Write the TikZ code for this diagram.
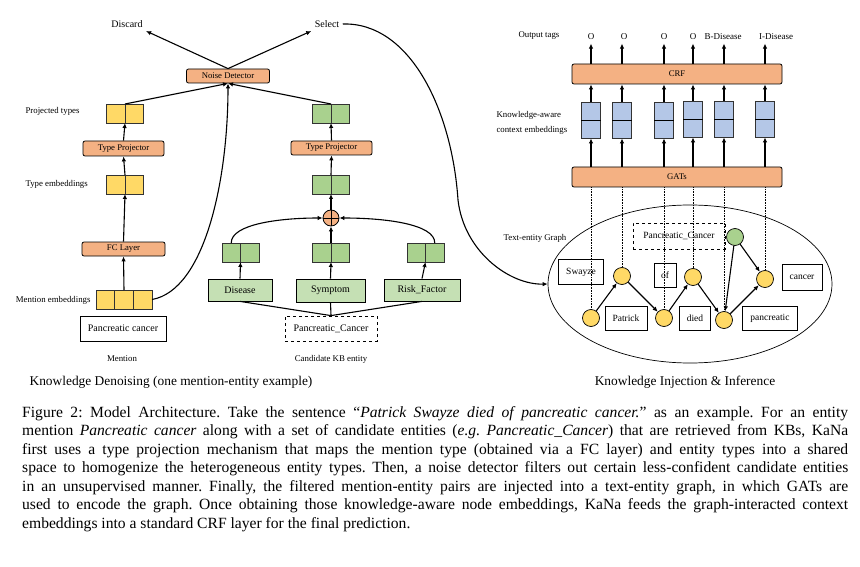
\documentclass[tikz,border=0pt]{standalone}
\usepackage{fontspec}
\setmainfont{Liberation Serif}
\usepackage{tikz}
\usepackage{xcolor}
\usetikzlibrary{shapes, positioning, arrows.meta}

\definecolor{procorange}{HTML}{F4B183}
\definecolor{cellyellow}{HTML}{FFD966}
\definecolor{cellgreen}{HTML}{A9D18E}
\definecolor{typegreen}{HTML}{C5E0B4}
\definecolor{cellblue}{HTML}{B4C7E7}
\frenchspacing

\begin{document}
\begin{tikzpicture}[x=1pt, y=-1pt,
    arr/.style={-{Latex[length=5pt, width=4.5pt]}, line width=1.1pt},
    proc/.style={draw, line width=0.8pt, rounded corners=2pt, fill=procorange, inner sep=0pt, font=\fontsize{8.7}{10}\selectfont},
    cell/.style={draw=black!80, line width=0.8pt, minimum width=18.5, minimum height=19, inner sep=0pt, outer sep=0pt},
    ycell/.style={cell, fill=cellyellow},
    gcell/.style={cell, fill=cellgreen},
    bcell/.style={draw=black!80, line width=0.8pt, fill=cellblue, minimum width=19, minimum height=36, inner sep=0pt},
    tbox/.style={draw, line width=0.8pt, fill=typegreen, minimum height=22, inner sep=0pt, font=\fontsize{10}{12}\selectfont},
    word/.style={draw, line width=0.8pt, fill=white, minimum height=24, inner sep=0pt, font=\fontsize{9.5}{11}\selectfont},
    tok/.style={circle, draw, line width=0.7pt, fill=cellyellow, minimum size=17, inner sep=0pt},
    lbl/.style={font=\fontsize{8.8}{10}\selectfont},
    tag/.style={font=\fontsize{9}{10}\selectfont},
    title/.style={font=\fontsize{13.4}{15}\selectfont}]
\useasboundingbox (0,0) rectangle (860,567);

        \node[proc, minimum width=83, minimum height=14] (nd) at (228,76) {Noise Detector};
        \node[font=\fontsize{10}{12}\selectfont] (discard) at (127,24) {Discard};
        \node[font=\fontsize{10}{12}\selectfont] (select) at (327,24) {Select};

        \draw[arr] (nd.north) -- (discard.south east);
        \draw[arr] (nd.north) -- (select.south west);

        \node[lbl, anchor=west] (ptlab) at (22,111) {Projected types};
        \node[lbl, anchor=west] (telab) at (22,184) {Type embeddings};
        \node[lbl, anchor=east] (melab) at (94,300) {Mention embeddings};

        \node[ycell] (yp1) at (115.75,113.5) {};
        \node[ycell, right=0pt of yp1] (yp2) {};
        \node[proc, minimum width=81, minimum height=15] (ytp) at (123.5,148.5) {Type Projector};
        \node[ycell] (ye1) at (115.75,184.5) {};
        \node[ycell, right=0pt of ye1] (ye2) {};
        \node[proc, minimum width=83, minimum height=14] (fc) at (123.5,249) {FC Layer};
        \node[ycell, minimum width=18.7] (m1) at (105.3,299.5) {};
        \node[ycell, minimum width=18.7, right=0pt of m1] (m2) {};
        \node[ycell, minimum width=18.7, right=0pt of m2] (m3) {};
        \node[word, minimum width=86, minimum height=25, font=\fontsize{10}{12}\selectfont] (mtext) at (123,328.5) {Pancreatic cancer};
        \node[lbl] (mlab) at (122,359) {Mention};

        \draw[arr] (m2.north) -- (fc.south);
        \draw[arr] (fc.north) -- (ye1.south east);
        \draw[arr] (ye1.north east) -- (ytp.south);
        \draw[arr] (ytp.north) -- (yp1.south east);
        \draw[arr] (yp1.north east) -- (nd.south);
        \draw[arr] (m3.east) .. controls (205,290) and (228,180) .. (nd.south);

        \node[gcell] (gp1) at (321.75,113.5) {};
        \node[gcell, right=0pt of gp1] (gp2) {};
        \node[proc, minimum width=81, minimum height=14] (gtp) at (331.5,148) {Type Projector};
        \node[gcell] (ge1) at (321.75,184.5) {};
        \node[gcell, right=0pt of ge1] (ge2) {};
        \node[circle, draw, line width=0.8pt, fill=procorange, minimum size=16, inner sep=0pt] (sum) at (331,218) {};
        \draw[line width=0.8pt] (sum.north) -- (sum.south)
            (sum.west) -- (sum.east);

        \node[gcell] (dp1) at (231.25,252.5) {};
        \node[gcell, right=0pt of dp1] (dp2) {};
        \node[gcell] (sp1) at (321.75,252.5) {};
        \node[gcell, right=0pt of sp1] (sp2) {};
        \node[gcell] (rp1) at (416.25,252.5) {};
        \node[gcell, right=0pt of rp1] (rp2) {};

        \node[tbox, minimum width=64] (dis) at (240,290) {Disease};
        \node[tbox, minimum width=69, minimum height=23] (sym) at (330.5,290.5) {Symptom};
        \node[tbox, minimum width=76] (risk) at (422,290) {Risk\_Factor};
        \node[draw, dashed, line width=0.8pt, minimum width=92, minimum height=25, inner sep=0pt, font=\fontsize{10}{12}\selectfont] (kb) at (331,328.5) {Pancreatic\_Cancer};
        \node[lbl] (kblab) at (331,359) {Candidate KB entity};

        \draw[line width=1.1pt] (kb.north) to (dis.south)
            (kb.north) to (sym.south)
            (kb.north) to (risk.south);

        \draw[arr] (dis.north) -- (dp1.south east);
        \draw[arr] (sym.north) -- (sp1.south east);
        \draw[arr] (risk.north) -- (rp1.south east);
        \draw[arr] (dp1.north) .. controls (231,224) and (280,218) .. (sum.west);
        \draw[arr] (rp2.north) .. controls (435,224) and (385,218) .. (sum.east);
        \draw[arr] (sp1.north east) -- (sum.south);
        \draw[arr] (sum.north) -- (ge1.south east);
        \draw[arr] (ge1.north east) -- (gtp.south);
        \draw[arr] (gtp.north) -- (gp1.south east);
        \draw[arr] (gp1.north east) -- (nd.south);

        \node[title] (lefttitle) at (171,382) {Knowledge Denoising (one mention-entity example)};

        \node[lbl, anchor=west] (outlab) at (515,36) {Output tags};
        \node[tag] (t1) at (591,37) {O};
        \node[tag] (t2) at (624,37) {O};
        \node[tag] (t3) at (664,37) {O};
        \node[tag] (t4) at (693,37) {O};
        \node[tag] (t5) at (723,37) {B-Disease};
        \node[tag] (t6) at (776,37) {I-Disease};

        \node[proc, minimum width=210, minimum height=20] (crf) at (677,74) {CRF};
        \node[proc, minimum width=210, minimum height=20] (gats) at (677,177) {GATs};
        \node[lbl, anchor=west, align=left, font=\fontsize{8.8}{15}\selectfont] (kalab) at (493,123) {Knowledge-aware\\context embeddings};

        \node[bcell] (b1) at (591,120) {};
        \node[bcell] (b2) at (622,120) {};
        \node[bcell] (b3) at (664,120) {};
        \node[bcell] (b4) at (693,119) {};
        \node[bcell] (b5) at (724,119) {};
        \node[bcell] (b6) at (765,119) {};
        \draw[line width=0.8pt] (b1.west) -- (b1.east)
            (b2.west) -- (b2.east)
            (b3.west) -- (b3.east)
            (b4.west) -- (b4.east)
            (b5.west) -- (b5.east)
            (b6.west) -- (b6.east);

        \draw[arr] (b1 |- crf.north) -- (b1 |- t1.south);
        \draw[arr] (b2 |- crf.north) -- (b2 |- t2.south);
        \draw[arr] (b3 |- crf.north) -- (b3 |- t3.south);
        \draw[arr] (b4 |- crf.north) -- (b4 |- t4.south);
        \draw[arr] (b5 |- crf.north) -- (b5 |- t5.south);
        \draw[arr] (b6 |- crf.north) -- (b6 |- t6.south);
        \draw[arr] (b1.north) -- (b1 |- crf.south);
        \draw[arr] (b2.north) -- (b2 |- crf.south);
        \draw[arr] (b3.north) -- (b3 |- crf.south);
        \draw[arr] (b4.north) -- (b4 |- crf.south);
        \draw[arr] (b5.north) -- (b5 |- crf.south);
        \draw[arr] (b6.north) -- (b6 |- crf.south);
        \draw[arr] (b1 |- gats.north) -- (b1.south);
        \draw[arr] (b2 |- gats.north) -- (b2.south);
        \draw[arr] (b3 |- gats.north) -- (b3.south);
        \draw[arr] (b4 |- gats.north) -- (b4.south);
        \draw[arr] (b5 |- gats.north) -- (b5.south);
        \draw[arr] (b6 |- gats.north) -- (b6.south);

        \node[ellipse, draw, line width=0.7pt, minimum width=284, minimum height=158] (graph) at (690,284) {};
        \node[lbl] (tglab) at (535,238) {Text-entity Graph};

        \node[tok] (c1) at (591,318) {};
        \node[tok] (c2) at (622,276) {};
        \node[tok] (c3) at (664,318) {};
        \node[tok] (c4) at (693,277) {};
        \node[tok] (c5) at (724,320) {};
        \node[tok] (c6) at (765,279) {};
        \node[tok, fill=cellgreen] (ent) at (735,237) {};

        \node[word, minimum width=45, minimum height=25] (w1) at (581,272) {Swayze};
        \node[word, minimum width=42] (w2) at (626,318) {Patrick};
        \node[word, minimum width=22] (w3) at (665,275) {of};
        \node[word, minimum width=31] (w4) at (695,318) {died};
        \node[word, minimum width=55] (w5) at (770,318) {pancreatic};
        \node[word, minimum width=40, minimum height=26] (w6) at (802,277) {cancer};
        \node[word, dashed, minimum width=92, minimum height=26] (went) at (679,236) {Pancreatic\_Cancer};

        \draw[densely dotted, line width=0.6pt] (b1 |- gats.south) -- (c1.north)
            (b2 |- gats.south) -- (c2.north)
            (b3 |- gats.south) -- (c3.north)
            (b4 |- gats.south) -- (c4.north)
            (b5 |- gats.south) -- (c5.north)
            (b6 |- gats.south) -- (c6.north);

        \draw[arr] (c1) to (c2);
        \draw[arr] (c2) to (c3);
        \draw[arr] (c3) to (c4);
        \draw[arr] (c4) to (c5);
        \draw[arr] (c5) to (c6);
        \draw[arr] (ent) to (c5);
        \draw[arr] (ent) to (c6);

        \draw[arr] (select.east) .. controls (410,22) and (452,110) .. (458,200) .. controls (464,252) and (510,285) .. (graph.west);

        \node[title] (righttitle) at (685,382) {Knowledge Injection \& Inference};

        \node[anchor=north west, inner sep=0pt, text width=826, align=justify, font=\fontsize{15.6}{18.5}\selectfont] (cap) at (22,406) {Figure 2: Model Architecture. Take the sentence ``\textit{Patrick Swayze died of pancreatic cancer.}'' as an example. For an entity\linebreak
mention \textit{Pancreatic cancer} along with a set of candidate entities (\textit{e.g. Pancreatic\_Cancer}) that are retrieved from KBs, KaNa\linebreak
first uses a type projection mechanism that maps the mention type (obtained via a FC layer) and entity types into a shared\linebreak
space to homogenize the heterogeneous entity types. Then, a noise detector filters out certain less-confident candidate entities\linebreak
in an unsupervised manner. Finally, the filtered mention-entity pairs are injected into a text-entity graph, in which GATs are\linebreak
used to encode the graph. Once obtaining those knowledge-aware node embeddings, KaNa feeds the graph-interacted context\linebreak
embeddings into a standard CRF layer for the final prediction.};
    \end{tikzpicture}
\end{document}
